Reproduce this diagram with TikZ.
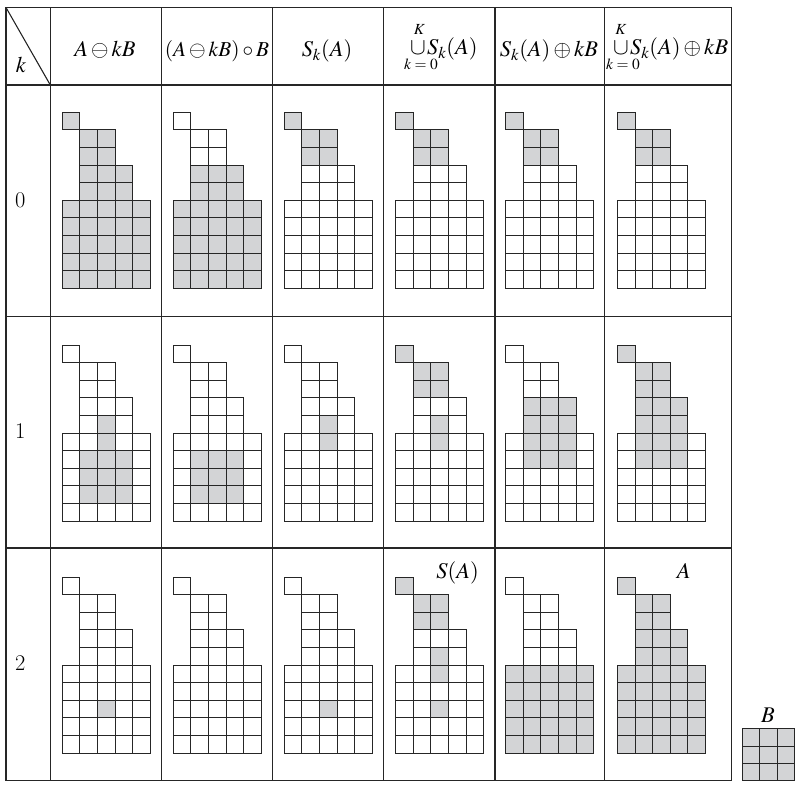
\documentclass[tikz,border=0pt]{standalone}
\usepackage{mathptmx}
\definecolor{cellgray}{RGB}{211,212,214}
\tikzset{
  gridsq/.style={draw=black!85, line width=0.9bp},
  tabline/.style={draw=black!85, line width=1.1bp},
  lbl/.style={font=\fontsize{22.5}{26}\selectfont, inner sep=0pt, anchor=base},
  lim/.style={font=\fontsize{15.5}{18}\selectfont, inner sep=0pt, anchor=base},
}
\def\sqs{17.6}
\newcommand\Ashape{0/0,1/1,1/2,2/1,2/2,3/1,3/2,3/3,4/1,4/2,4/3,5/0,5/1,5/2,5/3,5/4,6/0,6/1,6/2,6/3,6/4,7/0,7/1,7/2,7/3,7/4,8/0,8/1,8/2,8/3,8/4,9/0,9/1,9/2,9/3,9/4}
\newcommand\mgrid[3]{%
  \begin{scope}[shift={(#1,#2)}]
    \edef\glist{#3}%
    \foreach \r/\c in \glist {\fill[cellgray] (\c*\sqs,\r*\sqs) rectangle ++(\sqs,\sqs);}
    \foreach \r/\c in \Ashape {\draw[gridsq] (\c*\sqs,\r*\sqs) rectangle ++(\sqs,\sqs);}
  \end{scope}}
\newcommand\mplain[2]{%
  \begin{scope}[shift={(#1,#2)}]
    \foreach \r/\c in \Ashape {\draw[gridsq] (\c*\sqs,\r*\sqs) rectangle ++(\sqs,\sqs);}
  \end{scope}}
\newcommand\ucup{\mathord{\scalebox{1.05}{$\cup$}}\mkern1mu}
\begin{document}
\begin{tikzpicture}[x=1bp,y=-1bp]
\useasboundingbox (0,0) rectangle (799,788);
% table frame
\foreach \xx in {6,50.3,161.7,272.7,383.9,495,604.3,731.3}
  \draw[tabline] (\xx,7.5) -- (\xx,780.5);
\foreach \yy in {7.5,85,316.5,548,780.5}
  \draw[tabline] (6,\yy) -- (731.3,\yy);
\draw[tabline] (6,7.5) -- (50.3,85);
% header
\node[lbl] (kk) at (21,73) {$k$};
\node[lbl] (h1) at (105,57) {$A\ominus kB$};
\node[lbl,scale=0.95] (h2) at (217,57) {$(A\ominus kB)\circ B$};
\node[lbl] (h3) at (327,57) {$S_k(A)$};
\node[lbl,anchor=base west] (h4) at (410,55) {$\ucup S_k(A)$};
\node[lim] (h4t) at (419.5,35) {$K$};
\node[lim] (h4b) at (421,70) {$k=0$};
\node[lbl] (h5) at (549,57) {$S_k(A)\oplus kB$};
\node[lbl,anchor=base west] (h6) at (613,55) {$\ucup S_k(A)\oplus kB$};
\node[lim] (h6t) at (621,35) {$K$};
\node[lim] (h6b) at (623,70) {$k=0$};
% row labels
\node[lbl] (r0) at (20.3,207) {0};
\node[lbl] (r1) at (20.3,438.5) {1};
\node[lbl] (r2) at (20.3,670) {2};
% row k=0
\mgrid{62.3}{112.3}{\Ashape}
\mgrid{173.3}{112.3}{3/1,3/2,3/3,4/1,4/2,4/3,5/0,5/1,5/2,5/3,5/4,6/0,6/1,6/2,6/3,6/4,7/0,7/1,7/2,7/3,7/4,8/0,8/1,8/2,8/3,8/4,9/0,9/1,9/2,9/3,9/4}
\mgrid{284.3}{112.3}{0/0,1/1,1/2,2/1,2/2}
\mgrid{395.7}{112.3}{0/0,1/1,1/2,2/1,2/2}
\mgrid{505.7}{112.3}{0/0,1/1,1/2,2/1,2/2}
\mgrid{617.5}{112.3}{0/0,1/1,1/2,2/1,2/2}
% row k=1
\mgrid{62.3}{345}{4/2,5/2,6/1,6/2,6/3,7/1,7/2,7/3,8/1,8/2,8/3}
\mgrid{173.3}{345}{6/1,6/2,6/3,7/1,7/2,7/3,8/1,8/2,8/3}
\mgrid{284.3}{345}{4/2,5/2}
\mgrid{395.7}{345}{0/0,1/1,1/2,2/1,2/2,4/2,5/2}
\mgrid{505.7}{345}{3/1,3/2,3/3,4/1,4/2,4/3,5/1,5/2,5/3,6/1,6/2,6/3}
\mgrid{617.5}{345}{0/0,1/1,1/2,2/1,2/2,3/1,3/2,3/3,4/1,4/2,4/3,5/1,5/2,5/3,6/1,6/2,6/3}
% row k=2
\mgrid{62.3}{577}{7/2}
\mplain{173.3}{577}
\mgrid{284.3}{577}{7/2}
\mgrid{395.7}{577}{0/0,1/1,1/2,2/1,2/2,4/2,5/2,7/2}
\mgrid{505.7}{577}{5/0,5/1,5/2,5/3,5/4,6/0,6/1,6/2,6/3,6/4,7/0,7/1,7/2,7/3,7/4,8/0,8/1,8/2,8/3,8/4,9/0,9/1,9/2,9/3,9/4}
\mgrid{617.5}{577}{\Ashape}
\node[lbl] (sa) at (457.5,578) {$S(A)$};
\node[lbl] (aa) at (683.7,578) {$A$};
% structuring element B
\node[lbl] (bb) at (768,722) {$B$};
\begin{scope}[shift={(742.3,728.7)}]
  \foreach \r in {0,1,2} \foreach \c in {0,1,2}
    \filldraw[fill=cellgray, gridsq] (\c*17.33,\r*17.33) rectangle ++(17.33,17.33);
\end{scope}
\end{tikzpicture}
\end{document}
